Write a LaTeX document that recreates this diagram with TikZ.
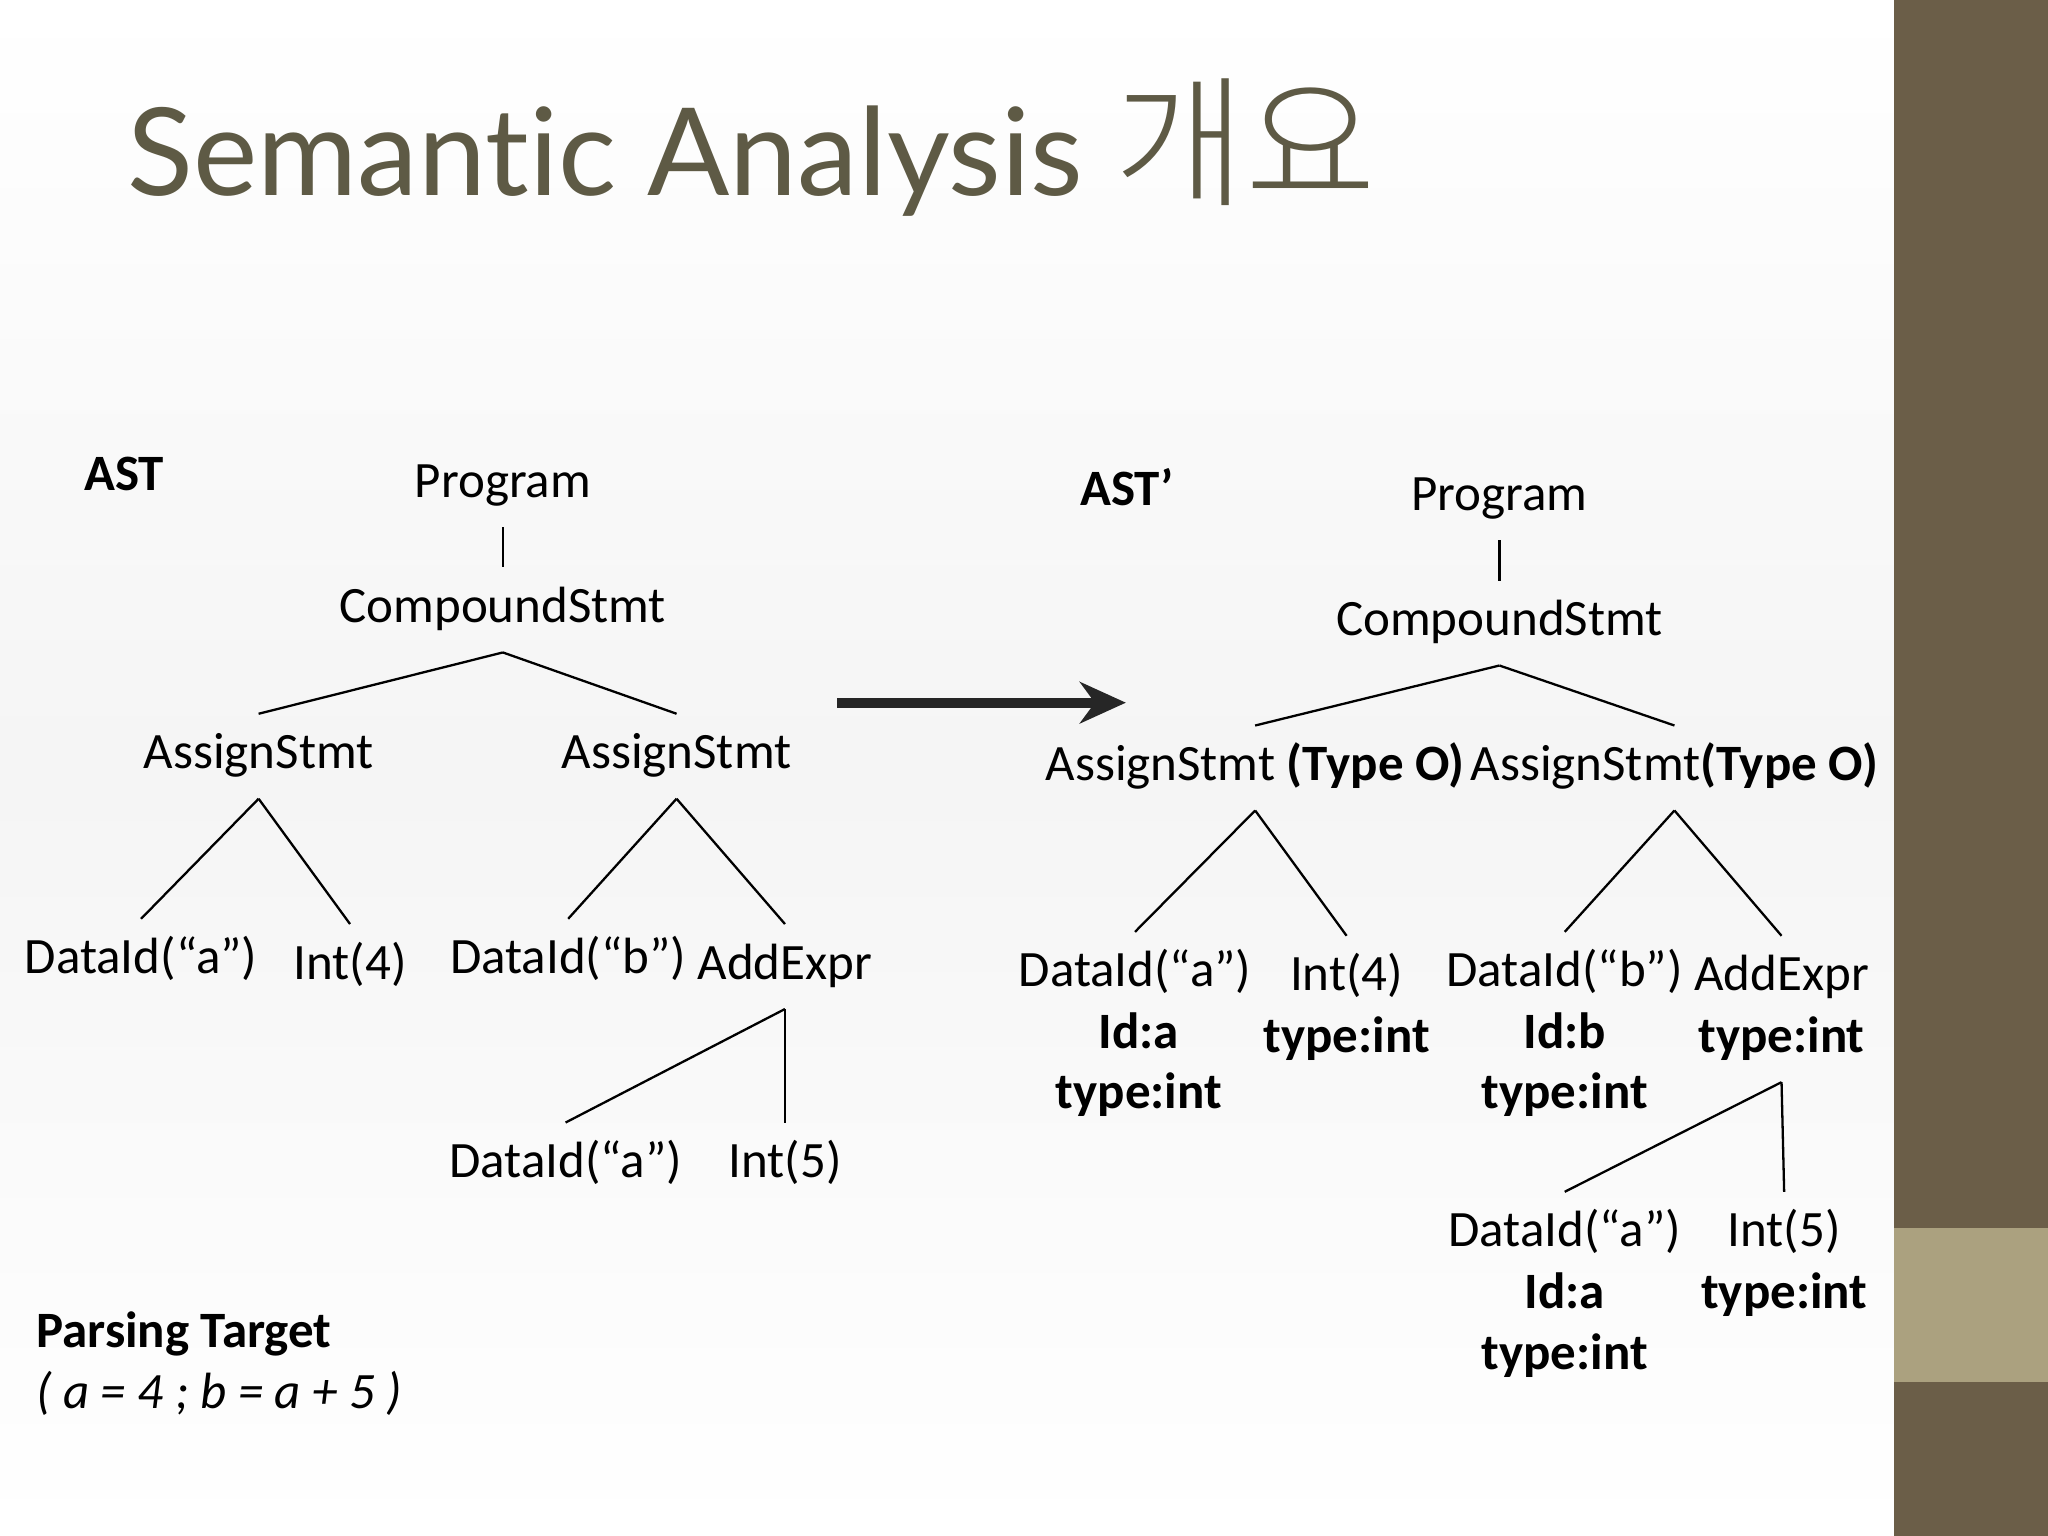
\documentclass[tikz,border=0pt]{standalone}
\usepackage{fontspec}
\setmainfont{Carlito}
\newfontfamily\titlefont[Ligatures=NoCommon]{Lato}
\newfontfamily\krfont{Noto Sans CJK KR Light}
\usetikzlibrary{arrows.meta}
\definecolor{bar}{HTML}{6B5E48}
\definecolor{band}{HTML}{ABA17F}
\definecolor{titlec}{HTML}{5E5A45}
\begin{document}
\begin{tikzpicture}[x=0.01cm,y=-0.01cm,
  t/.style={font=\fontsize{11.1}{13}\selectfont, text height=8pt, text depth=2.5pt, inner xsep=0pt, inner ysep=3.8pt},
  b/.style={t, font=\fontsize{11.1}{13}\selectfont\bfseries},
  e/.style={line width=0.5pt, black}]
\useasboundingbox (0,0) rectangle (1568,1176);
\shade[top color=white, bottom color=white, middle color=gray!8] (0,0) rectangle (1450,1176);
\fill[bar] (1450,0) rectangle (1568,1176);
\fill[band] (1450,940) rectangle (1568,1058);
\node[anchor=base west, inner sep=0, text=titlec, font=\fontsize{26.5}{30}\selectfont\titlefont] (title) at (97,150) {Semantic Analysis {\krfont\fontsize{31}{34}\selectfont 개요}};
% left tree
\node[b] (astl) at (95,366) {AST};
\node[t] (p) at (385,371) {Program};
\node[t] (cs) at (385,467) {CompoundStmt};
\node[t] (as1) at (198,579) {AssignStmt};
\node[t] (as2) at (518,579) {AssignStmt};
\node[t] (d1) at (108,736) {DataId(“a”)};
\node[t] (i4) at (268,740) {Int(4)};
\node[t] (d2) at (435,736) {DataId(“b”)};
\node[t] (ad) at (601,740) {AddExpr};
\node[t] (d3) at (433,892) {DataId(“a”)};
\node[t] (i5) at (601,892) {Int(5)};
\draw[e] (p.south) -- (cs.north);
\draw[e] (cs.south) -- (as1.north);
\draw[e] (cs.south) -- (as2.north);
\draw[e] (as1.south) -- (d1.north);
\draw[e] (as1.south) -- (i4.north);
\draw[e] (as2.south) -- (d2.north);
\draw[e] (as2.south) -- (ad.north);
\draw[e] (ad.south) -- (d3.north);
\draw[e] (ad.south) -- (i5.north);
\node[b, anchor=west] (pt) at (27,1022) {Parsing Target};
\node[t, anchor=west, font=\fontsize{11.1}{13}\selectfont\itshape] (pe) at (27,1069) {( a = 4 ; b = a + 5 )};
% arrow
\coordinate (a0) at (641,538);
\coordinate (a1) at (862,538);
\draw[line width=2.2pt, black!85, -{Stealth[length=10pt,width=9pt]}] (a0) -- (a1);
% right tree
\node[b] (astr) at (863,377) {AST’};
\node[t] (rp) at (1148,381) {Program};
\node[t] (rcs) at (1148,477) {CompoundStmt};
\node[t] (ras1) at (961,588) {AssignStmt \textbf{(Type O)}};
\node[t] (ras2) at (1282,588) {AssignStmt\textbf{(Type O)}};
\node[t] (rd1) at (869,746) {DataId(“a”)};
\node[b] (rd1a) at (872,793) {Id:a};
\node[b] (rd1b) at (872,839) {type:int};
\node[t] (ri4) at (1031,749) {Int(4)};
\node[b] (ri4a) at (1031,796) {type:int};
\node[t] (rd2) at (1198,746) {DataId(“b”)};
\node[b] (rd2a) at (1198,793) {Id:b};
\node[b] (rd2b) at (1198,839) {type:int};
\node[t] (rad) at (1364,749) {AddExpr};
\node[b] (rada) at (1364,796) {type:int};
\node[t] (rd3) at (1198,945) {DataId(“a”)};
\node[b] (rd3a) at (1198,992) {Id:a};
\node[b] (rd3b) at (1198,1039) {type:int};
\node[t] (ri5) at (1366,945) {Int(5)};
\node[b] (ri5a) at (1366,992) {type:int};
\draw[e] (rp.south) -- (rcs.north);
\draw[e] (rcs.south) -- (ras1.north);
\draw[e] (rcs.south) -- (ras2.north);
\draw[e] (ras1.south) -- (rd1.north);
\draw[e] (ras1.south) -- (ri4.north);
\draw[e] (ras2.south) -- (rd2.north);
\draw[e] (ras2.south) -- (rad.north);
\draw[e] (rada.south) -- (rd3.north);
\draw[e] (rada.south) -- (ri5.north);
\end{tikzpicture}
\end{document}
